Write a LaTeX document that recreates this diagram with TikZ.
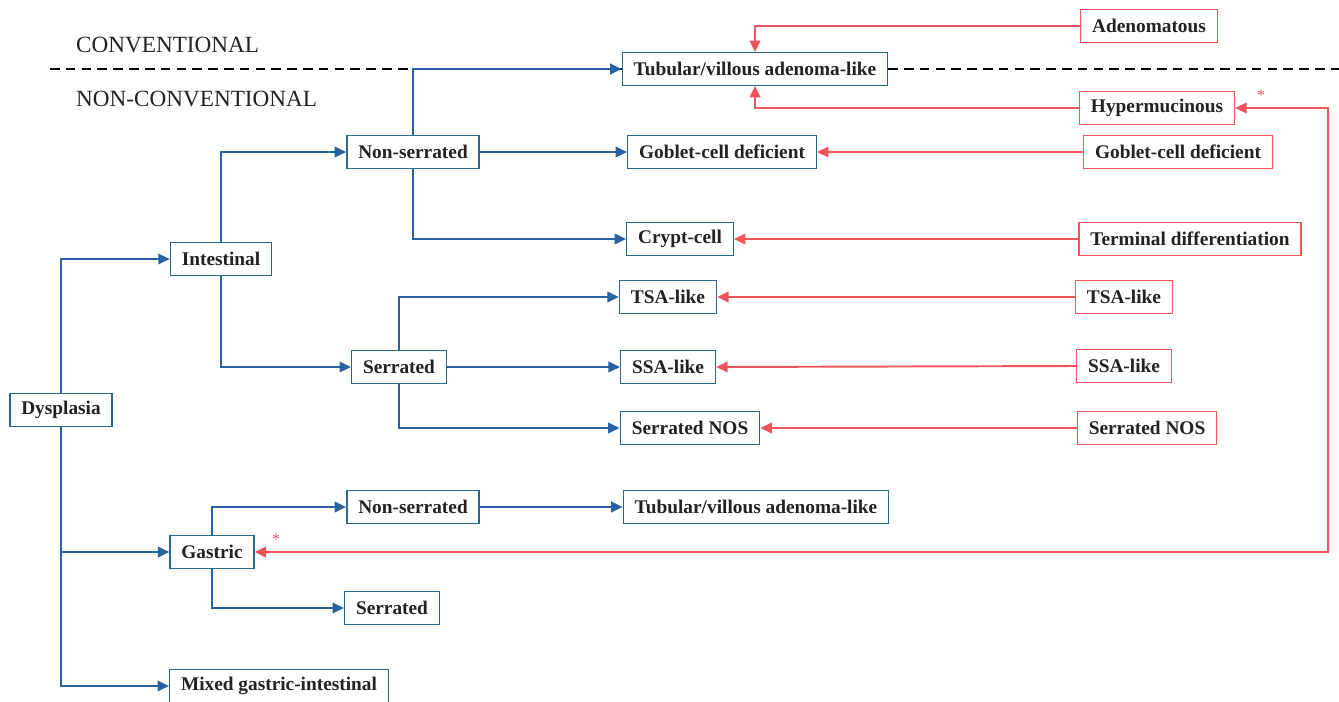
\documentclass[tikz,border=0pt]{standalone}
\usepackage{fontspec}
\setmainfont{Liberation Serif}
\usetikzlibrary{arrows.meta}
\definecolor{dysblue}{RGB}{40,98,160}
\definecolor{boxblue}{RGB}{44,104,140}
\definecolor{dysred}{RGB}{236,86,90}
\definecolor{inkgray}{RGB}{34,34,34}

\tikzset{
  bbox/.style={draw=boxblue, line width=0.8pt, fill=white, text=inkgray,
    minimum height=18.5pt, inner xsep=6.5pt, font=\fontsize{11}{13}\selectfont\bfseries},
  rbox/.style={bbox, draw=dysred},
  barrow/.style={draw=dysblue, line width=1.1pt, -{Triangle[length=6.5pt,width=6pt]}},
  rarrow/.style={draw=dysred, line width=1.1pt, -{Triangle[length=6.5pt,width=6pt]}},
}

\begin{document}
\begin{tikzpicture}[x=0.02cm, y=-0.02cm]
      \useasboundingbox (0,0) rectangle (1339,701);
      % category split
      \coordinate (dashL) at (50,69);
      \coordinate (dashR) at (1339,69);
      \draw[black, line width=1.1pt, dash pattern=on 5.5pt off 3.5pt] (dashL)--(dashR);
      \node[anchor=west, text=inkgray, font=\fontsize{13.2}{15}\selectfont] (conv) at (70,45) {CONVENTIONAL};
      \node[anchor=west, text=inkgray, font=\fontsize{13.2}{15}\selectfont] (nconv) at (70,99) {NON-CONVENTIONAL};
      % blue tree
      \node[bbox] (dys) at (61,410) {Dysplasia};
      \node[bbox] (int) at (221,259) {Intestinal};
      \node[bbox] (gas) at (212,552) {Gastric};
      \node[bbox] (mix) at (279,686) {Mixed gastric-intestinal};
      \node[bbox] (ns1) at (413,152) {Non-serrated};
      \node[bbox] (ser1) at (399,367) {Serrated};
      \node[bbox] (ns2) at (413,507) {Non-serrated};
      \node[bbox] (ser2) at (392,608) {Serrated};
      \node[bbox] (tva1) at (755,69) {Tubular/villous adenoma-like};
      \node[bbox] (gcd) at (722,152) {Goblet-cell deficient};
      \node[bbox] (crypt) at (680,239) {Crypt-cell};
      \node[bbox] (tsa) at (668,297) {TSA-like};
      \node[bbox] (ssa) at (668,367) {SSA-like};
      \node[bbox] (nos) at (690,428) {Serrated NOS};
      \node[bbox] (tva2) at (756,507) {Tubular/villous adenoma-like};
      % red column
      \node[rbox] (ade) at (1149,26) {Adenomatous};
      \node[rbox] (hyp) at (1157,108) {Hypermucinous};
      \node[rbox] (rgcd) at (1178,152) {Goblet-cell deficient};
      \node[rbox] (term) at (1190,239) {Terminal differentiation};
      \node[rbox] (rtsa) at (1124,297) {TSA-like};
      \node[rbox] (rssa) at (1124,366) {SSA-like};
      \node[rbox] (rnos) at (1147,428) {Serrated NOS};
      \node[text=dysred, font=\small] (ast1) at (1261,95) {*};
      \node[text=dysred, font=\small] (ast2) at (276,539) {*};
      \draw[barrow] (dys.north) |- (int.west);
      \draw[barrow] (dys.south) |- (gas.west);
      \draw[barrow] (dys.south) |- (mix.west);
      \draw[barrow] (int.north) |- (ns1.west);
      \draw[barrow] (int.south) |- (ser1.west);
      \draw[barrow] (ns1.north) |- (tva1.west);
      \draw[barrow] (ns1.east) -- (gcd.west);
      \draw[barrow] (ns1.south) |- (crypt.west);
      \draw[barrow] (ser1.north) |- (tsa.west);
      \draw[barrow] (ser1.east) -- (ssa.west);
      \draw[barrow] (ser1.south) |- (nos.west);
      \draw[barrow] (gas.north) |- (ns2.west);
      \draw[barrow] (ns2.east) -- (tva2.west);
      \draw[barrow] (gas.south) |- (ser2.west);
      \draw[rarrow] (ade.west) -| (tva1.north);
      \draw[rarrow] (hyp.west) -| (tva1.south);
      \draw[rarrow] (rgcd.west) -- (gcd.east);
      \draw[rarrow] (term.west) -- (crypt.east);
      \draw[rarrow] (rtsa.west) -- (tsa.east);
      \draw[rarrow] (rssa.west) -- (ssa.east);
      \draw[rarrow] (rnos.west) -- (nos.east);
      \coordinate (turn) at (1328,552);
      \draw[rarrow, {Triangle[length=6.5pt,width=6pt]}-{Triangle[length=6.5pt,width=6pt]}] (gas.east) -- (turn) |- (hyp.east);
\end{tikzpicture}
\end{document}
